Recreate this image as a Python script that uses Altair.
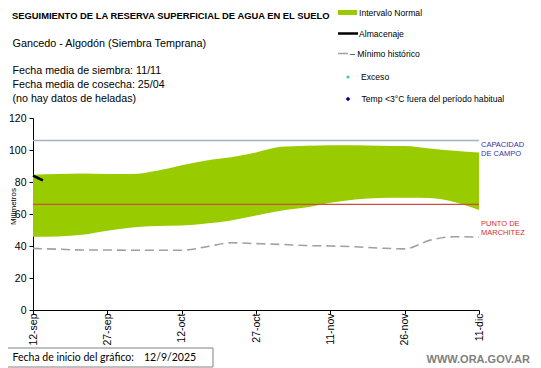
import altair as alt
import pandas as pd

# ---------------- data ----------------
days = [0, 5, 10, 15, 20, 25, 30, 35, 40, 45, 50, 55, 60, 65, 70, 75, 80, 85, 90]
upper = [84.5, 85, 85.3, 85, 85, 87, 90.5, 93.5, 95.5, 98.5, 102, 102.7, 103, 103, 102.7, 102.5, 101, 99.5, 98.5]
lower = [45.8, 46, 47, 49.5, 51.5, 52.5, 52.8, 54, 56, 59, 62, 64, 67, 69, 70, 70.2, 70, 67.5, 62.5]
minimo = [38.5, 38, 37.5, 37.5, 37.3, 37.3, 37.3, 39.5, 42, 41.5, 41, 40.3, 40, 39.5, 38.7, 38.2, 43.5, 45.8, 45.5]
alm_days = [0, 1, 2]
almacenaje = [84, 82.5, 81]
tick_days = [0, 15, 30, 45, 60, 75, 90]
tick_labels = ["12-sep", "27-sep", "12-oct", "27-oct", "11-nov", "26-nov", "11-dic"]
y_ticks = [0, 20, 40, 60, 80, 100, 120]
capacidad = 106
marchitez = 66

FONT = "Liberation Sans, Arial"

band = pd.DataFrame({"d": days, "upper": upper, "lower": lower, "minimo": minimo})
alm = pd.DataFrame({"d": alm_days, "v": almacenaje})

label_expr = "[" + ",".join("'" + t + "'" for t in tick_labels) + "][round(datum.value/15)]"

xscale = alt.Scale(domain=[0, 90], nice=False, zero=False)
yscale = alt.Scale(domain=[0, 120], nice=False)

xaxis = alt.Axis(values=tick_days, labelExpr=label_expr, labelAngle=270, grid=False,
                 title=None, labelFont=FONT, labelFontSize=10.5, labelColor="black",
                 domainColor="black", tickColor="black", tickSize=4, labelPadding=-1,
                 labelOverlap=False)
yaxis = alt.Axis(values=y_ticks, grid=False, title="Milímetros",
                 titleFont=FONT, titleFontSize=8, titleFontWeight="normal", titleColor="black",
                 titleX=-24, titleY=88, titleAngle=270, titleAlign="center",
                 titleBaseline="top",
                 labelFont=FONT, labelFontSize=10.5, labelColor="black",
                 domainColor="black", tickColor="black", tickSize=4, labelPadding=3,
                 labelOverlap=False, tickCount=7)


def X(field):
    return alt.X(field, scale=xscale, axis=xaxis)


def Y(field):
    return alt.Y(field, scale=yscale, axis=yaxis)


area = alt.Chart(band).mark_area(color="#99cc00", interpolate="monotone").encode(
    x=X("d:Q"), y=Y("upper:Q"), y2="lower:Q")

mins = alt.Chart(band).mark_line(color="#a0a0a0", strokeDash=[9, 5], strokeWidth=1.6,
                                 interpolate="monotone").encode(x=X("d:Q"), y=Y("minimo:Q"))

alm_line = alt.Chart(alm).mark_line(color="black", strokeWidth=2.5).encode(
    x=X("d:Q"), y=Y("v:Q"))

cap_rule = alt.Chart(pd.DataFrame({"v": [capacidad]})).mark_rule(
    color="#a6aecb", strokeWidth=1.5).encode(y=Y("v:Q"))
mar_rule = alt.Chart(pd.DataFrame({"v": [marchitez]})).mark_rule(
    color="#c9503a", strokeWidth=1.2).encode(y=Y("v:Q"))


def txt(text, x, y, size=12, font=FONT, color="black", weight="normal", align="left"):
    return alt.Chart(pd.DataFrame({"t": [text]})).mark_text(
        align=align, baseline="middle", font=font, fontSize=size, color=color,
        fontWeight=weight).encode(text="t:N", x=alt.value(x), y=alt.value(y))


one = pd.DataFrame({"k": [0]})

texts = [
    txt("SEGUIMIENTO DE LA RESERVA SUPERFICIAL DE AGUA EN EL SUELO", -21, -102, size=9.4,
        weight="bold"),
    txt("Gancedo - Algodón (Siembra Temprana)", -20.5, -74.5, size=10.8),
    txt("Fecha media de siembra: 11/11", -20.5, -47, size=10.7),
    txt("Fecha media de cosecha: 25/04", -20.5, -32.7, size=10.7),
    txt("(no hay  datos de heladas)", -20.5, -18.7, size=10.7),
    # legend
    txt("Intervalo Normal", 326, -105.5, size=8.6),
    txt("Almacenaje", 326, -84.5, size=8.6),
    txt("– Mínimo histórico", 317, -64.5, size=8.6),
    txt("Exceso", 328, -41, size=8.6),
    txt("Temp <3°C fuera del período habitual", 328.5, -19, size=8.6),
    # right labels
    txt("CAPACIDAD", 448, 27, size=7.5, color="#3333aa"),
    txt("DE  CAMPO", 448, 36, size=7.5, color="#3333aa"),
    txt("PUNTO  DE", 448, 106, size=7.5, color="#dd2a2a"),
    txt("MARCHITEZ", 448, 115, size=7.5, color="#dd2a2a"),
    # footer
    txt("Fecha de inicio del gráfico:", -20.5, 240, size=10.5, font="Lato"),
    txt("12/9/2025", 111, 240, size=10.5, font="Lato"),
    txt("WWW.ORA.GOV.AR", 497, 241.5, size=11, color="#808080", weight="bold",
        align="right"),
]

legend_rect = alt.Chart(one).mark_rect(color="#99cc00").encode(
    x=alt.value(305), x2=alt.value(324), y=alt.value(-108), y2=alt.value(-103))
legend_alm = alt.Chart(one).mark_rule(color="black", strokeWidth=2.5).encode(
    x=alt.value(305), x2=alt.value(325), y=alt.value(-84.5))
legend_min = alt.Chart(one).mark_rule(color="#a0a0a0", strokeWidth=1.5).encode(
    x=alt.value(305), x2=alt.value(315), y=alt.value(-64.5))
legend_exc = alt.Chart(one).mark_point(filled=True, shape="circle", size=10, color="#33cccc",
                                       opacity=1).encode(x=alt.value(315), y=alt.value(-41))
legend_tmp = alt.Chart(one).mark_point(filled=True, shape="diamond", size=22, color="#000099",
                                       opacity=1).encode(x=alt.value(315), y=alt.value(-19))
box = alt.Chart(one).mark_rect(fill="white", stroke="#808080", strokeWidth=1).encode(
    x=alt.value(-27), x2=alt.value(180), y=alt.value(230), y2=alt.value(249))

chart = alt.layer(
    area, cap_rule, mar_rule, mins, alm_line,
    legend_rect, legend_alm, legend_min, legend_exc, legend_tmp, box,
    *texts,
).properties(
    width=446, height=192,
    autosize=alt.AutoSizeParams(type="none"),
    padding={"left": 25, "top": 110, "right": 54, "bottom": 58},
    background="white",
).configure_view(strokeWidth=0)

chart.save("out.html", embed_options={"renderer": "svg", "actions": False})
